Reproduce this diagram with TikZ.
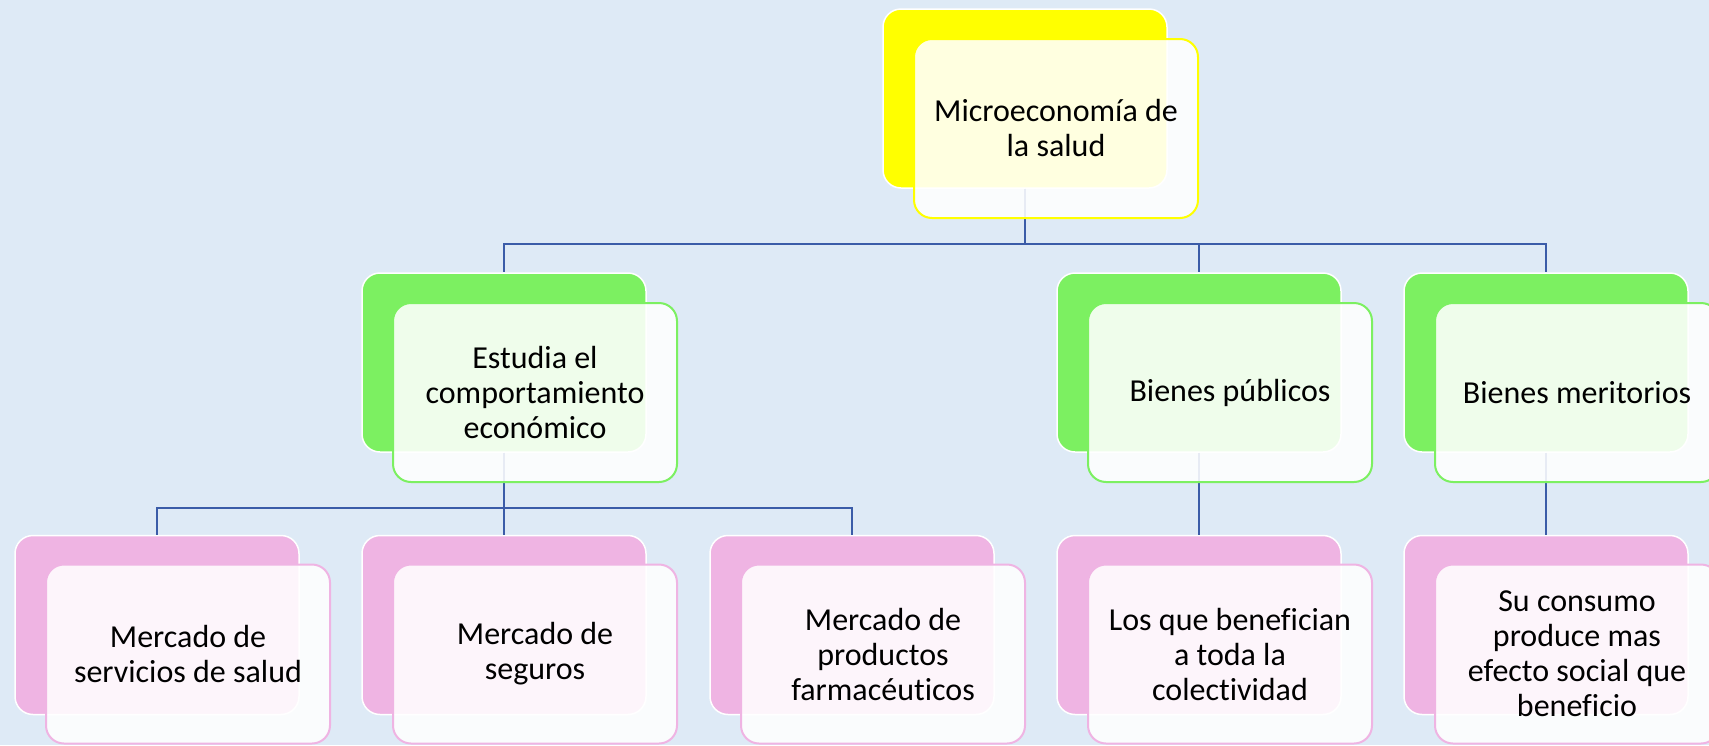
\documentclass[tikz,border=0pt]{standalone}
\usepackage{fontspec}
\setmainfont{Carlito}[Ligatures={NoCommon}]
\definecolor{bgc}{HTML}{DEEAF6}
\definecolor{yel}{HTML}{FFFF00}
\definecolor{grn}{HTML}{7CF061}
\definecolor{pnk}{HTML}{EFB4E3}
\definecolor{lnk}{HTML}{3B5CA8}
\tikzset{
  backbox/.style={rectangle, rounded corners=18pt, minimum width=284pt, minimum height=179pt, draw=white, line width=1.5pt, inner sep=0pt},
  frontbox/.style={rectangle, rounded corners=18pt, minimum width=284pt, minimum height=179pt, line width=2pt, fill=white, fill opacity=0.88, text opacity=1, text=black, align=center, font=\fontsize{32}{35}\selectfont, inner sep=0pt},
  conn/.style={draw=lnk, line width=2.4pt},
}
\begin{document}
\begin{tikzpicture}[x=1pt,y=-1pt]
\useasboundingbox (0,0) rectangle (1709,745);
\clip (0,0) rectangle (1709,745);
\fill[bgc] (0,0) rectangle (1709,745);
% back boxes
\node[backbox, fill=yel] (top) at (1025,98.5) {};
\node[backbox, fill=grn] (est) at (504,362.5) {};
\node[backbox, fill=grn] (pub) at (1199,362.5) {};
\node[backbox, fill=grn] (mer) at (1546,362.5) {};
\node[backbox, fill=pnk] (ser) at (157,625) {};
\node[backbox, fill=pnk] (seg) at (504,625) {};
\node[backbox, fill=pnk] (far) at (852,625) {};
\node[backbox, fill=pnk] (col) at (1199,625) {};
\node[backbox, fill=pnk] (con) at (1546,625) {};
% connectors
\draw[conn] (top.south) -- ++(0,55) -| (est.north);
\draw[conn] (top.south) -- ++(0,55) -| (pub.north);
\draw[conn] (top.south) -- ++(0,55) -| (mer.north);
\draw[conn] (est.south) -- ++(0,55) -| (ser.north);
\draw[conn] (est.south) -- ++(0,55) -| (seg.north);
\draw[conn] (est.south) -- ++(0,55) -| (far.north);
\draw[conn] (pub.south) -- (col.north);
\draw[conn] (mer.south) -- (con.north);
% front boxes
\node[frontbox, draw=yel] (topf) at (1056,128.5) {Microeconomía de\\la salud};
\node[frontbox, draw=grn] (estf) at (535,392.5) {Estudia el\\comportamiento\\económico};
\node[frontbox, draw=grn] (pubf) at (1230,392.5) {Bienes públicos};
\node[frontbox, draw=grn] (merf) at (1577,392.5) {Bienes meritorios};
\node[frontbox, draw=pnk] (serf) at (188,654) {Mercado de\\servicios de salud};
\node[frontbox, draw=pnk] (segf) at (535,654) {Mercado de\\seguros};
\node[frontbox, draw=pnk] (farf) at (883,654) {Mercado de\\productos\\farmacéuticos};
\node[frontbox, draw=pnk] (colf) at (1230,654) {Los que benefician\\a toda la\\colectividad};
\node[frontbox, draw=pnk] (conf) at (1577,654) {Su consumo\\produce mas\\efecto social que\\beneficio};
\end{tikzpicture}
\end{document}
